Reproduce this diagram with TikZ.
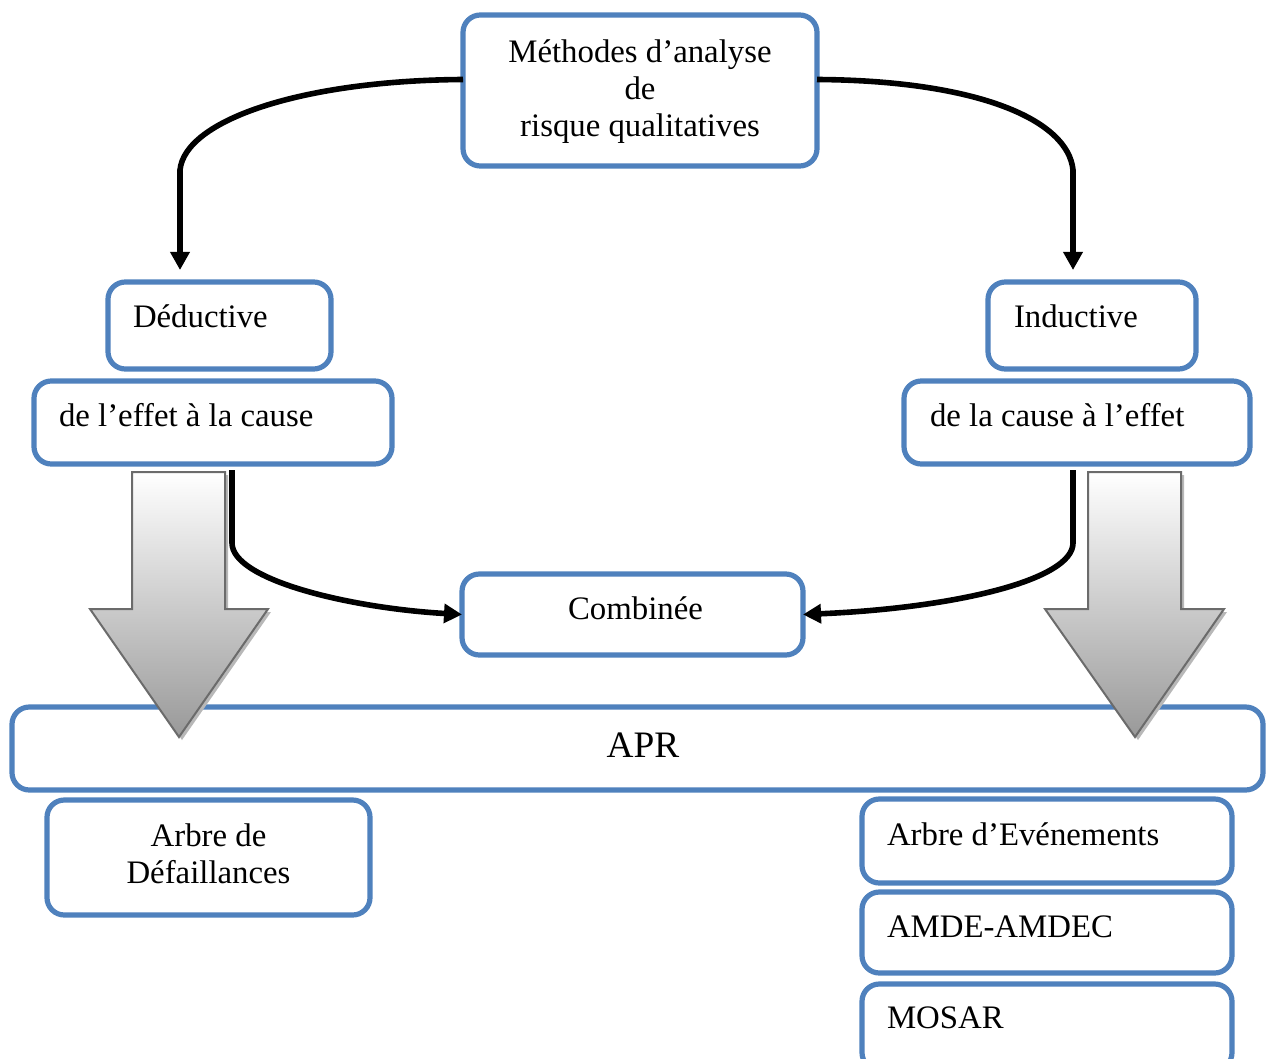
\documentclass[tikz,border=0pt]{standalone}
\usepackage{fontspec}
\setmainfont{Liberation Serif}
\usetikzlibrary{arrows.meta,calc}
\definecolor{boxblue}{HTML}{4F81BD}
\definecolor{arrowedge}{HTML}{6B6B6B}
\begin{document}
\begin{tikzpicture}[x=0.75pt,y=-0.75pt,
  box/.style={draw=boxblue,line width=3.9pt,rounded corners=13pt,fill=white,
              inner sep=0pt,outer sep=0pt,rectangle},
  lbl/.style={font=\fontsize{24.6pt}{27.75pt}\selectfont,inner sep=0pt,outer sep=0pt},
  conn/.style={line width=4.2pt,-{Triangle[length=13.5pt,width=14pt]}},
  fatarrow/.style={draw=arrowedge,line width=1.5pt,line join=miter,
                   top color=white,bottom color=black!40},
  fatshadow/.style={fill=black!28,draw=none}]
\useasboundingbox (0,0) rectangle (1266,1059);
\clip (0,0) rectangle (1266,1059);

% boxes, given by centre and size (px)
\newcommand\mkbox[5]{\node[box,minimum width=#4*0.75pt,minimum height=#5*0.75pt] (#1) at (#2,#3) {};}
\mkbox{top}{640}{90.5}{354}{151}
\mkbox{ded}{219.5}{325.5}{223}{87}
\mkbox{effcause}{213}{422.5}{358}{83}
\mkbox{ind}{1092}{325.5}{208}{87}
\mkbox{causeeff}{1077}{422.5}{346}{83}
\mkbox{comb}{632.5}{614.5}{341}{81}
\mkbox{apr}{637.5}{748.5}{1251}{83}
\mkbox{adf}{208.5}{857.5}{323}{115}
\mkbox{ae}{1047}{841}{370}{84}
\mkbox{amde}{1047}{932.5}{370}{81}
\mkbox{mosar}{1047}{1027}{370}{86}

% labels (base anchor of a multi-line label = last line)
\node[lbl,anchor=base,align=center] (ttop) at (640,137) {Méthodes d’analyse\\de\\risque qualitatives};
\node[lbl,anchor=base west] (tded) at (133,327) {Déductive};
\node[lbl,anchor=base west] (teff) at (59,426) {de l’effet à la cause};
\node[lbl,anchor=base west] (tind) at (1014,327) {Inductive};
\node[lbl,anchor=base west] (tcau) at (930,426) {de la cause à l’effet};
\node[lbl,anchor=base] (tcomb) at (635.5,619) {Combinée};
\node[lbl,anchor=base,font=\fontsize{28pt}{32pt}\selectfont] (tapr) at (643,757) {APR};
\node[lbl,anchor=base,align=center] (tadf) at (208.5,883) {Arbre de\\Défaillances};
\node[lbl,anchor=base west] (tae) at (887,845) {Arbre d’Evénements};
\node[lbl,anchor=base west] (tamde) at (887,937) {AMDE-AMDEC};
\node[lbl,anchor=base west] (tmos) at (887,1028) {MOSAR};

% curved connectors
\coordinate (tl) at ($(top.west)+(0,-11)$);
\coordinate (tr) at ($(top.east)+(0,-11)$);
\coordinate (dedin) at ($(180,0 |- ded.north)+(0,-12)$);
\coordinate (indin) at ($(1073,0 |- ind.north)+(0,-12)$);
\coordinate (effout) at ($(232,0 |- effcause.south)+(0,6)$);
\coordinate (cauout) at ($(1073,0 |- causeeff.south)+(0,6)$);

\draw[conn] (tl) .. controls ($(tl)+(-161,1)$) and (185,120) .. (180,170) -- (dedin);
\draw[conn] (tr) .. controls ($(tr)+(161,1)$) and (1068,120) .. (1073,170) -- (indin);
\draw[conn] (effout) -- (232,543) .. controls (232,580) and (350,608) .. (comb.west);
\draw[conn] (cauout) -- (1073,543) .. controls (1073,580) and (955,608) .. (comb.east);

% broad shaded arrows
\fill[fatshadow] (135,475) -- (228,475) -- (228,612) -- (271,612) -- (182,740) -- (93,612) -- (135,612) -- cycle;
\path[fatarrow] (132,472) -- (225,472) -- (225,609) -- (268,609) -- (179,737) -- (90,609) -- (132,609) -- cycle;
\fill[fatshadow] (1091,475) -- (1184,475) -- (1184,612) -- (1227,612) -- (1138,740) -- (1048,612) -- (1091,612) -- cycle;
\path[fatarrow] (1088,472) -- (1181,472) -- (1181,609) -- (1224,609) -- (1135,737) -- (1045,609) -- (1088,609) -- cycle;
\end{tikzpicture}
\end{document}
